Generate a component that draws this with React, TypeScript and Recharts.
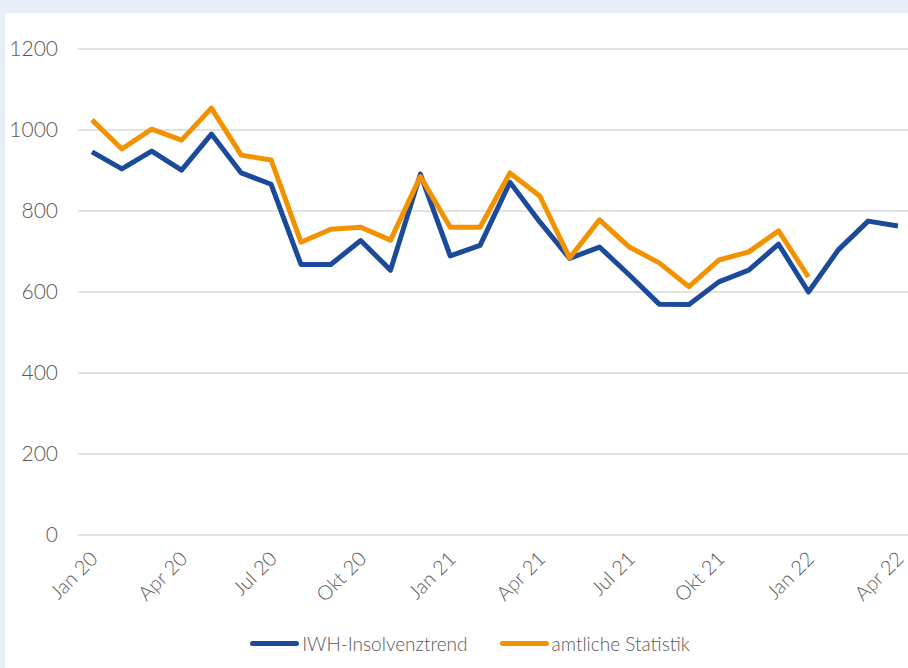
import { LineChart, Line, XAxis, YAxis, CartesianGrid, Legend } from "recharts";

const months = [
  "Jan 20", "Feb 20", "Mär 20", "Apr 20", "Mai 20", "Jun 20", "Jul 20", "Aug 20", "Sep 20", "Okt 20", "Nov 20", "Dez 20",
  "Jan 21", "Feb 21", "Mär 21", "Apr 21", "Mai 21", "Jun 21", "Jul 21", "Aug 21", "Sep 21", "Okt 21", "Nov 21", "Dez 21",
  "Jan 22", "Feb 22", "Mär 22", "Apr 22",
];

const iwhTrend = [
  946, 904, 948, 901, 990, 894, 866, 668, 668, 727, 654, 891,
  689, 715, 871, 773, 683, 711, 642, 570, 569, 625, 654, 718,
  600, 704, 775, 763,
];

const amtlicheStatistik = [
  1025, 953, 1002, 975, 1054, 938, 926, 723, 755, 760, 728, 885,
  760, 760, 894, 837, 684, 778, 711, 672, 613, 679, 699, 751,
  637,
];

const yTicks = [0, 200, 400, 600, 800, 1000, 1200];

const BLUE = "#1c4a9a";
const ORANGE = "#f39200";
const TEXT = "#595959";
const FONT = "Lato, 'Open Sans', sans-serif";

const data = months.map((month, i) => ({
  month,
  iwh: iwhTrend[i],
  amtlich: i < amtlicheStatistik.length ? amtlicheStatistik[i] : null,
}));

function LegendContent({ payload }: any) {
  return (
    <div
      style={{
        height: 40,
        display: "flex",
        justifyContent: "center",
        alignItems: "center",
        paddingLeft: 27,
        gap: 32,
        fontFamily: FONT,
        fontSize: 19,
        fontWeight: 300,
        color: TEXT,
      }}
    >
      {(payload || []).map((entry: any) => (
        <div key={entry.value} style={{ display: "flex", alignItems: "center" }}>
          <span
            style={{
              display: "inline-block",
              width: 49,
              height: 5,
              borderRadius: 3,
              background: entry.color,
              marginRight: 3,
            }}
          />
          <span>{entry.value}</span>
        </div>
      ))}
    </div>
  );
}

export default function App() {
  return (
    <div
      style={{
        position: "absolute",
        left: 0,
        top: 0,
        width: 908,
        height: 668,
        overflow: "hidden",
        background: "#e7eef8",
      }}
    >
      <div
        style={{
          position: "absolute",
          left: 5,
          top: 13,
          right: 0,
          bottom: 0,
          background: "#ffffff",
        }}
      />
      <div style={{ position: "absolute", left: 0, top: 0 }}>
        <LineChart
          width={913}
          height={668}
          data={data}
          margin={{ top: 49, right: 0, bottom: 5, left: 0 }}
        >
          <CartesianGrid vertical={false} stroke="#d9d9d9" strokeWidth={1.5} />
          <XAxis
            dataKey="month"
            interval={2}
            padding={{ left: 14, right: 15 }}
            height={88}
            axisLine={false}
            tickLine={false}
            tickMargin={9}
            angle={-45}
            textAnchor="end"
            tick={{ fontSize: 20, fill: TEXT, fontFamily: FONT, fontWeight: 300, dx: -3 }}
          />
          <YAxis
            width={78}
            domain={[0, 1200]}
            ticks={yTicks}
            axisLine={false}
            tickLine={false}
            tickMargin={14}
            tick={{ fontSize: 21, fill: TEXT, fontFamily: FONT, fontWeight: 300 }}
          />
          <Legend verticalAlign="bottom" content={<LegendContent />} />
          <Line
            type="linear"
            dataKey="iwh"
            name="IWH-Insolvenztrend"
            stroke={BLUE}
            strokeWidth={5}
            strokeLinejoin="round"
            dot={false}
            isAnimationActive={false}
          />
          <Line
            type="linear"
            dataKey="amtlich"
            name="amtliche Statistik"
            stroke={ORANGE}
            strokeWidth={5}
            strokeLinejoin="round"
            dot={false}
            isAnimationActive={false}
          />
        </LineChart>
      </div>
    </div>
  );
}
